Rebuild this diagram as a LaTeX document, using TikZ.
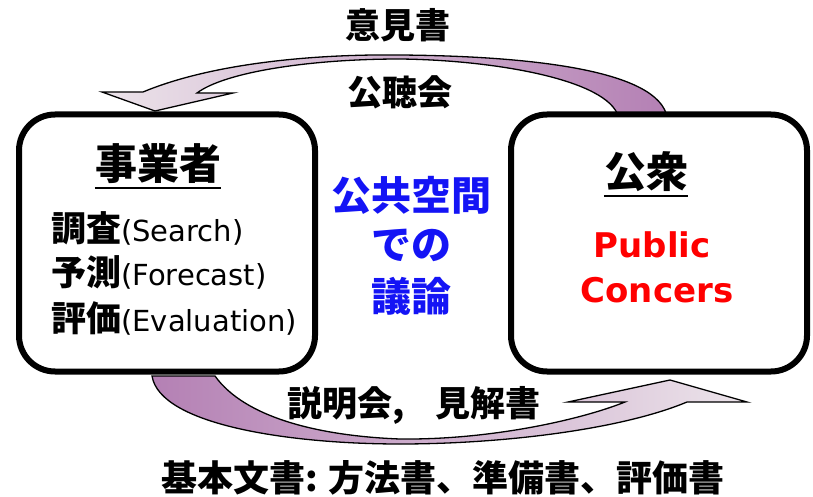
\documentclass[tikz,border=0pt]{standalone}
\usepackage{fontspec}
\newfontfamily\jp{Noto Sans CJK JP}
\newfontfamily\lat{DejaVu Sans}
\definecolor{arrpurple}{RGB}{180,128,180}
\definecolor{arrlight}{RGB}{236,228,234}
\definecolor{midblue}{RGB}{20,20,245}
\begin{document}
\begin{tikzpicture}[x=1pt,y=-1pt,
  party/.style={draw=black,line width=6pt,rounded corners=36pt,fill=white},
  flow/.style={draw=black,line width=1.3pt,line join=miter},
  jtxt/.style={font=\jp\bfseries\fontsize{35}{40}\selectfont,inner sep=0pt},
  ttl/.style={font=\jp\bfseries\fontsize{42}{48}\selectfont,inner sep=0pt},
  item/.style={font=\jp\bfseries\fontsize{35}{40}\selectfont,inner sep=0pt,anchor=west},
  ctr/.style={font=\jp\bfseries\fontsize{40}{46}\selectfont,text=midblue,inner sep=0pt},
  red/.style={font=\lat\bfseries\fontsize{34}{39}\selectfont,text=red,inner sep=0pt}]
\useasboundingbox (0,0) rectangle (813,497);
% top arrow (public -> proponent)
\shade[flow,left color=arrlight,right color=arrpurple]
  (617,113) .. controls (600,78) and (490,60) .. (400,59)
  .. controls (310,59) and (225,72) .. (197,93)
  -- (233,93) -- (155,111) -- (102,92) -- (143,92)
  .. controls (215,62) and (320,54) .. (400,55)
  .. controls (520,56) and (650,68) .. (666,113) -- cycle;
% bottom arrow (proponent -> public)
\shade[flow,left color=arrpurple,right color=arrlight]
  (215,376) .. controls (245,418) and (320,436) .. (400,439)
  .. controls (490,440) and (580,420) .. (625,402)
  -- (568,402) -- (670,380) -- (747,402) -- (687,402)
  .. controls (620,430) and (500,444) .. (400,444)
  .. controls (290,444) and (160,425) .. (152,376) -- cycle;
% boxes
\node[party,minimum width=296pt,minimum height=257pt] (prop) at (167,243) {};
\node[party,minimum width=296pt,minimum height=257pt] (pub) at (659,243) {};
% proponent texts
\node[ttl] (propt) at (158,164) {事業者};
\draw[line width=2pt] ([yshift=-4pt]propt.south west) -- ([yshift=-4pt]propt.south east);
\node[item] (i1) at (51,228) {調査\lat\mdseries\fontsize{29}{34}\selectfont(Search)};
\node[item] (i2) at (51,272) {予測\lat\mdseries\fontsize{29}{34}\selectfont(Forecast)};
\node[item] (i3) at (51,318) {評価\lat\mdseries\fontsize{29}{34}\selectfont(Evaluation)};
% public texts
\node[ttl] (pubt) at (646,172) {公衆};
\draw[line width=2pt] ([yshift=-4pt]pubt.south west) -- ([yshift=-4pt]pubt.south east);
\node[red] (pc1) at (652,245) {Public};
\node[red] (pc2) at (657,290) {Concers};
% centre
\node[ctr] (c1) at (411,195) {公共空間};
\node[ctr] (c2) at (411,245) {での};
\node[ctr] (c3) at (411,296) {議論};
% arrow labels
\node[jtxt] (l1) at (398,25) {意見書};
\node[jtxt] (l2) at (400,92) {公聴会};
\node[jtxt] (l3) at (414,405) {説明会,\hspace{0.9em}見解書};
\node[jtxt,font=\jp\bfseries\fontsize{36}{40}\selectfont] (l4) at (443,478) {基本文書:\hspace{0.3em}方法書、準備書、評価書};
\end{tikzpicture}
\end{document}
